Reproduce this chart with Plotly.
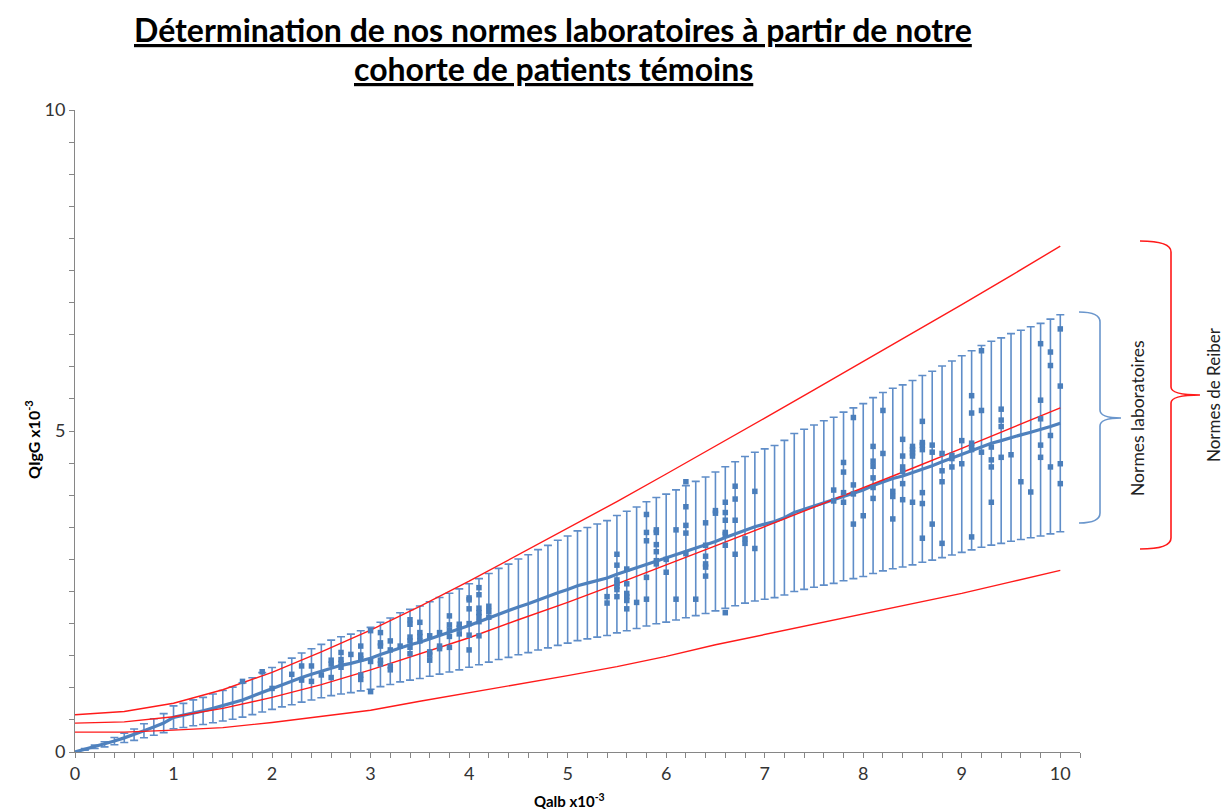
import plotly.graph_objects as go

# ---------------------------------------------------------------
# Data (QIgG / Qalb, both x10^-3)
# ---------------------------------------------------------------
qalb = [i / 10 for i in range(101)]  # 0.0 .. 10.0 step 0.1

igg_mean = [
    0.00, 0.04, 0.08, 0.12, 0.17, 0.22, 0.27, 0.33, 0.39, 0.45,
    0.54, 0.57, 0.61, 0.64, 0.68, 0.72, 0.76, 0.81, 0.87, 0.93,
    0.99, 1.05, 1.10, 1.16, 1.21, 1.26, 1.31, 1.35, 1.38, 1.42,
    1.46, 1.52, 1.57, 1.63, 1.67, 1.71, 1.76, 1.81, 1.86, 1.91,
    1.97, 2.03, 2.09, 2.15, 2.20, 2.26, 2.31, 2.37, 2.42, 2.48,
    2.53, 2.59, 2.63, 2.67, 2.71, 2.77, 2.82, 2.87, 2.93, 2.98,
    3.02, 3.07, 3.12, 3.17, 3.22, 3.28, 3.34, 3.40, 3.46, 3.51,
    3.55, 3.59, 3.65, 3.73, 3.78, 3.83, 3.88, 3.92, 3.98, 4.03,
    4.08, 4.15, 4.21, 4.26, 4.30, 4.35, 4.41, 4.46, 4.52, 4.58,
    4.64, 4.70, 4.76, 4.81, 4.85, 4.90, 4.94, 4.98, 5.02, 5.07,
    5.12,
]
err_pct = 33  # normes laboratoires : +/- 33 %

reiber_x = [i / 2 for i in range(21)]  # 0 .. 10 step 0.5
reiber_high = [0.58, 0.63, 0.76, 0.97, 1.24, 1.56, 1.90, 2.27, 2.66, 3.07, 3.48,
               3.90, 4.33, 4.76, 5.20, 5.64, 6.08, 6.53, 6.97, 7.42, 7.88]
reiber_mean = [0.45, 0.47, 0.55, 0.68, 0.85, 1.05, 1.28, 1.53, 1.78, 2.06, 2.33,
               2.62, 2.91, 3.21, 3.51, 3.81, 4.12, 4.42, 4.73, 5.04, 5.36]
reiber_low = [0.31, 0.31, 0.34, 0.38, 0.46, 0.56, 0.65, 0.79, 0.92, 1.06, 1.19,
              1.33, 1.49, 1.67, 1.83, 1.99, 2.15, 2.31, 2.47, 2.65, 2.83]

# patients temoins
pts_x = (
    [1.7, 1.9, 2.0, 2.2, 2.3, 2.3, 2.4, 2.4, 2.5, 2.6, 2.6, 2.6,
     2.7, 2.7, 2.7, 2.7, 2.8, 2.9, 2.9, 2.9, 2.9, 2.9, 3.0, 3.0, 3.0,
     3.1, 3.1, 3.1, 3.1, 3.1, 3.2, 3.2, 3.2, 3.2, 3.3,
     3.4, 3.4, 3.4, 3.4, 3.4, 3.4, 3.5, 3.5, 3.5, 3.5,
     3.6, 3.6, 3.6, 3.6, 3.7, 3.7, 3.7, 3.8, 3.8, 3.8, 3.8, 3.8,
     3.9, 3.9, 3.9, 4.0, 4.0, 4.0, 4.0, 4.0, 4.0,
     4.1, 4.1, 4.1, 4.1, 4.1, 4.1, 4.1, 4.2, 4.2, 4.2]
    + [5.4, 5.4, 5.5, 5.5, 5.5, 5.5, 5.5, 5.5, 5.5,
       5.6, 5.6, 5.6, 5.6, 5.6, 5.6, 5.7, 5.8, 5.8, 5.8, 5.8, 5.8,
       5.9, 5.9, 5.9, 5.9, 5.9, 5.9, 6.0, 6.0, 6.1, 6.1,
       6.2, 6.2, 6.2, 6.2, 6.2, 6.3, 6.4, 6.4, 6.4, 6.4, 6.4, 6.4,
       6.5, 6.5, 6.6, 6.6, 6.6, 6.6, 6.6, 6.6, 6.6,
       6.7, 6.7, 6.7, 6.7, 6.8, 6.8, 6.9, 6.9]
    + [7.7, 7.7, 7.8, 7.8, 7.8, 7.8, 7.9, 7.9, 7.9, 7.9, 8.0,
       8.1, 8.1, 8.1, 8.1, 8.1, 8.1, 8.2, 8.2, 8.3, 8.3, 8.3,
       8.4, 8.4, 8.4, 8.4, 8.4, 8.4, 8.5, 8.5, 8.5, 8.5, 8.5,
       8.6, 8.6, 8.6, 8.6, 8.6, 8.6, 8.6, 8.7, 8.7, 8.7,
       8.8, 8.8, 8.8, 8.8, 8.9, 8.9, 8.9, 9.0, 9.0,
       9.1, 9.1, 9.1, 9.1, 9.1, 9.1, 9.2, 9.2, 9.2,
       9.3, 9.3, 9.3, 9.3, 9.4, 9.4, 9.4, 9.4, 9.5, 9.6, 9.7,
       9.8, 9.8, 9.8, 9.8, 9.8, 9.9, 9.9, 9.9, 9.9, 10.0, 10.0, 10.0, 10.0]
)
pts_y = (
    [1.10, 1.25, 0.99, 1.21, 1.34, 1.12, 1.34, 1.10, 1.20, 1.43, 1.37, 1.16,
     1.55, 1.44, 1.38, 1.32, 1.52, 1.65, 1.51, 1.45, 1.20, 1.13, 1.89, 1.41, 0.94,
     1.86, 1.70, 1.65, 1.43, 1.37, 1.73, 1.59, 1.34, 1.28, 1.65,
     2.06, 1.99, 1.79, 1.73, 1.63, 1.53, 2.02, 1.86, 1.80, 1.73,
     1.81, 1.56, 1.51, 1.43, 1.86, 1.65, 1.61, 2.12, 1.98, 1.90, 1.80, 1.63,
     1.99, 1.93, 1.84, 2.40, 2.37, 2.23, 2.00, 1.82, 1.59,
     2.56, 2.45, 2.24, 2.17, 2.11, 2.03, 1.81, 2.27, 2.19, 2.10]
    + [2.42, 2.32, 3.08, 2.91, 2.68, 2.63, 2.58, 2.53, 2.42,
       2.85, 2.62, 2.47, 2.42, 2.36, 2.23, 2.33, 3.70, 3.42, 3.29, 2.72, 2.38,
       3.46, 3.42, 3.23, 3.12, 2.98, 2.93, 3.00, 2.80, 3.46, 2.38,
       4.21, 3.82, 3.53, 3.41, 3.09, 2.38, 3.57, 3.22, 3.05, 2.93, 2.88, 2.74,
       3.76, 3.72, 3.89, 3.73, 3.61, 3.42, 3.39, 3.22, 2.17,
       4.14, 3.94, 3.61, 3.08, 3.32, 3.25, 4.06, 3.17]
    + [4.08, 3.91, 4.51, 4.36, 4.04, 3.89, 5.21, 4.16, 4.02, 3.55, 3.68,
       4.76, 4.53, 4.45, 4.27, 4.12, 3.95, 5.32, 4.65, 4.06, 3.98, 3.63,
       4.87, 4.61, 4.44, 4.37, 4.18, 3.93, 4.76, 4.71, 4.66, 4.61, 3.89,
       5.15, 4.82, 4.78, 4.71, 4.04, 3.87, 3.33, 4.78, 4.67, 3.55,
       4.65, 4.38, 4.21, 3.25, 4.62, 4.57, 4.44, 4.85, 4.49,
       5.55, 5.28, 4.81, 4.76, 4.71, 3.35, 6.25, 5.32, 4.67,
       4.75, 4.55, 4.44, 3.89, 5.34, 5.17, 5.07, 4.59, 4.63, 4.21, 4.05,
       6.36, 5.48, 5.19, 4.78, 4.59, 6.23, 6.02, 4.93, 4.44, 6.59, 5.70, 4.49, 4.18]
)

# ---------------------------------------------------------------
# Layout helpers
# page body has an 8px margin, so the figure is drawn 8px smaller
# and positions below are given in window pixels
# ---------------------------------------------------------------
PAGE = 8
W, H = 1229 - PAGE, 812 - PAGE
L, R, T, B = 75, 1080, 110, 752          # plot area in window pixels
BLUE = "#4F81BD"
BAR_BLUE = "#5F8DC8"
FONT = "Lato, Carlito, Calibri, sans-serif"


def to_paper(x, y):
    return (x - L) / (R - L), (B - y) / (B - T)


def brace_path(xe, xs, xt, y0, ym, y1, c=10):
    segs = [
        ("M", [(xe, y0)]),
        ("Q", [(xs, y0), (xs, y0 + c)]),
        ("L", [(xs, ym - 8)]),
        ("Q", [(xs, ym), (xt, ym)]),
        ("Q", [(xs, ym), (xs, ym + 8)]),
        ("L", [(xs, y1 - c)]),
        ("Q", [(xs, y1), (xe, y1)]),
    ]
    out = []
    for cmd, pts in segs:
        coords = " ".join("%.5f,%.5f" % to_paper(px, py) for px, py in pts)
        out.append(cmd + coords)
    return " ".join(out)


def label(text, x, y, size, angle=0, color="#000000", **font_extra):
    xx, yy = to_paper(x, y)
    return dict(text=text, x=xx, y=yy, xref="paper", yref="paper",
                showarrow=False, xanchor="center", yanchor="middle",
                textangle=angle,
                font=dict(family=FONT, size=size, color=color, **font_extra))


fig = go.Figure()

# error bars (normes laboratoires)
fig.add_trace(go.Scatter(
    x=qalb, y=igg_mean, mode="markers",
    marker=dict(size=1, color="rgba(0,0,0,0)"),
    error_y=dict(type="percent", value=err_pct, color=BAR_BLUE,
                 thickness=1.6, width=4),
    showlegend=False, hoverinfo="skip",
))

# mean curve
fig.add_trace(go.Scatter(
    x=qalb, y=igg_mean, mode="lines",
    line=dict(color=BLUE, width=3.2),
    showlegend=False,
))

# Reiber curves
for ys in (reiber_high, reiber_mean, reiber_low):
    fig.add_trace(go.Scatter(
        x=reiber_x, y=ys, mode="lines",
        line=dict(color="#FF1A1A", width=1.4),
        showlegend=False,
    ))

# patients
fig.add_trace(go.Scatter(
    x=pts_x, y=pts_y, mode="markers",
    marker=dict(symbol="square", size=5.5, color="#4A7EBB"),
    showlegend=False,
))

axis_common = dict(
    showgrid=False, zeroline=False, showline=True,
    linecolor="#868686", linewidth=1,
    ticks="outside", ticklen=5, tickcolor="#868686",
    tickfont=dict(family=FONT, size=18, color="#333333"),
)

fig.update_xaxes(range=[0, 10.2], dtick=1, tick0=0,
                 minor=dict(dtick=0.2, ticks="outside", ticklen=5, tickcolor="#868686"),
                 **axis_common)
fig.update_yaxes(range=[0, 10], dtick=5, tick0=0,
                 minor=dict(dtick=0.5, ticks="outside", ticklen=5, tickcolor="#868686"),
                 **axis_common)

ann = [
    label("Détermination de nos normes laboratoires à partir de notre",
          553, 29, 32, weight="bold", lineposition="under"),
    label("cohorte de patients témoins",
          553, 68, 32, weight="bold", lineposition="under"),
    label("<b>Qalb x10<sup>-3</sup></b>", 569, 800, 15),
    label("<b>QIgG x10<sup>-3</sup></b>", 33, 440, 16, angle=-90),
    label("Normes laboratoires", 1137, 418, 17.5, angle=-90, color="#222222"),
    label("Normes de Reiber", 1213, 395, 17, angle=-90, color="#222222"),
]

shapes = [
    dict(type="path", xref="paper", yref="paper",
         path=brace_path(1079, 1100, 1121, 312, 418, 523),
         line=dict(color="#6A96CC", width=1.6)),
    dict(type="path", xref="paper", yref="paper",
         path=brace_path(1140, 1171, 1200, 241, 395, 549, c=11),
         line=dict(color="#FF1A1A", width=1.6)),
]

fig.update_layout(
    width=W, height=H,
    margin=dict(l=L - PAGE, r=W - (R - PAGE), t=T - PAGE, b=H - (B - PAGE)),
    paper_bgcolor="white", plot_bgcolor="white",
    annotations=ann, shapes=shapes,
    showlegend=False,
)

fig.write_html("out.html")
